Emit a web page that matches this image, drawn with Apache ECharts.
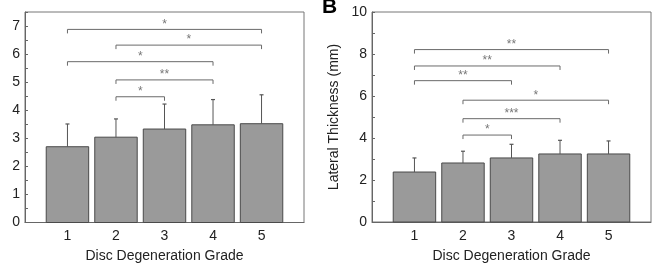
<!DOCTYPE html>
<html>
<head>
<meta charset="utf-8">
<script src="https://cdn.jsdelivr.net/npm/echarts@6/dist/echarts.min.js"></script>
<style>
html,body{margin:0;padding:0;background:#fff;}
#chart{width:653px;height:264px;}
</style>
</head>
<body>
<div id="chart"></div>
<script>
// ---- data ----
const grades = [1, 2, 3, 4, 5];
const meanA = [2.70, 3.04, 3.33, 3.48, 3.52];
const upperA = [3.51, 3.69, 4.22, 4.38, 4.55];
const meanB = [2.38, 2.81, 3.05, 3.24, 3.24];
const upperB = [3.05, 3.37, 3.70, 3.89, 3.86];
// [from grade, to grade, height, significance]
const bracketsA = [[1, 5, 6.88, '*'], [2, 5, 6.32, '*'], [1, 4, 5.73, '*'], [2, 4, 5.08, '**'], [2, 3, 4.48, '*']];
const bracketsB = [[1, 5, 8.21, '**'], [1, 4, 7.43, '**'], [1, 3, 6.73, '**'], [2, 5, 5.80, '*'], [2, 4, 4.92, '***'], [2, 3, 4.14, '*']];
const yLabelsA = [0, 1, 2, 3, 4, 5, 6, 7];
const yTicksA = [0, 0.5, 1, 1.5, 2, 2.5, 3, 3.5, 4, 4.5, 5, 5.5, 6, 6.5, 7, 7.5];
const yLabelsB = [0, 2, 4, 6, 8, 10];
const yTicksB = [0, 1, 2, 3, 4, 5, 6, 7, 8, 9, 10];
const xName = 'Disc Degeneration Grade';
const yNameB = 'Lateral Thickness (mm)';
const panelLetter = 'B';

const FONT = 'Liberation Sans, Arial, Helvetica, sans-serif';
const BAR_W = 0.875;

const chart = echarts.init(document.getElementById('chart'), null, {renderer: 'canvas'});

function xAxisCfg(gi) {
  return {
    type: 'value', gridIndex: gi, min: 0.125, max: 5.875,
    name: xName, nameLocation: 'middle', nameGap: 27,
    nameTextStyle: {fontFamily: FONT, fontSize: 14, color: '#222'},
    axisLine: {show: true, lineStyle: {color: '#666', width: 1}},
    axisTick: {show: false},
    splitLine: {show: false},
    axisLabel: {customValues: grades, fontFamily: FONT, fontSize: 14, color: '#222', margin: 7}
  };
}
function yAxisCfg(gi, max, labels, ticks, name) {
  return {
    type: 'value', gridIndex: gi, min: 0, max: max,
    name: name || '', nameLocation: 'middle', nameGap: 31,
    nameTextStyle: {fontFamily: FONT, fontSize: 14, color: '#222'},
    axisLine: {show: true, lineStyle: {color: '#666', width: 1}},
    axisTick: {show: true, inside: true, length: 3, customValues: ticks, lineStyle: {color: '#666'}},
    splitLine: {show: false},
    axisLabel: {customValues: labels, fontFamily: FONT, fontSize: 14, color: '#222', margin: 5}
  };
}

function barSeries(gi, means) {
  return {
    type: 'custom', xAxisIndex: gi, yAxisIndex: gi,
    data: grades.map((g, i) => [g, means[i]]),
    renderItem: function (params, api) {
      const top = api.coord([api.value(0), api.value(1)]);
      const base = api.coord([api.value(0), 0]);
      const w = api.size([BAR_W, 0])[0];
      return {
        type: 'rect',
        shape: {x: top[0] - w / 2, y: top[1], width: w, height: base[1] - top[1]},
        style: {fill: '#9a9a9a', stroke: '#4a4a4a', lineWidth: 1}
      };
    }
  };
}
function errSeries(gi, means, uppers) {
  return {
    type: 'custom', xAxisIndex: gi, yAxisIndex: gi, z: 3,
    data: grades.map((g, i) => [g, means[i], uppers[i]]),
    renderItem: function (params, api) {
      const a = api.coord([api.value(0), api.value(1)]);
      const b = api.coord([api.value(0), api.value(2)]);
      return {
        type: 'group',
        children: [
          {type: 'line', shape: {x1: a[0], y1: a[1], x2: b[0], y2: b[1]}, style: {stroke: '#555', lineWidth: 1}},
          {type: 'line', shape: {x1: b[0] - 2, y1: b[1], x2: b[0] + 2, y2: b[1]}, style: {stroke: '#555', lineWidth: 1.2}}
        ]
      };
    }
  };
}
function bracketSeries(gi, brackets) {
  return {
    type: 'custom', xAxisIndex: gi, yAxisIndex: gi, z: 4,
    data: brackets.map(b => [b[0], b[1], b[2], b[3]]),
    renderItem: function (params, api) {
      const p1 = api.coord([api.value(0), api.value(2)]);
      const p2 = api.coord([api.value(1), api.value(2)]);
      const label = brackets[params.dataIndex][3];
      const drop = 4;
      return {
        type: 'group',
        children: [
          {type: 'polyline', shape: {points: [[p1[0], p1[1] + drop], [p1[0], p1[1]], [p2[0], p1[1]], [p2[0], p1[1] + drop]]},
           style: {stroke: '#6a6a6a', lineWidth: 1, fill: null}},
          {type: 'text', x: (p1[0] + p2[0]) / 2, y: p1[1] + 1,
           style: {text: label, fill: '#777', font: '12px ' + FONT, align: 'center', verticalAlign: 'bottom'}}
        ]
      };
    }
  };
}

const option = {
  backgroundColor: '#fff',
  animation: false,
  grid: [
    {left: 25, top: 12, width: 279, height: 210.5, show: true, borderColor: '#777', borderWidth: 1, backgroundColor: 'transparent', outerBoundsMode: 'none', containLabel: false},
    {left: 372, top: 12, width: 279, height: 210, show: true, borderColor: '#777', borderWidth: 1, backgroundColor: 'transparent', outerBoundsMode: 'none', containLabel: false}
  ],
  xAxis: [xAxisCfg(0), xAxisCfg(1)],
  yAxis: [yAxisCfg(0, 7.5, yLabelsA, yTicksA), yAxisCfg(1, 10, yLabelsB, yTicksB, yNameB)],
  series: [
    barSeries(0, meanA), errSeries(0, meanA, upperA), bracketSeries(0, bracketsA),
    barSeries(1, meanB), errSeries(1, meanB, upperB), bracketSeries(1, bracketsB)
  ],
  graphic: [
    {type: 'text', left: 322, top: -3, style: {text: panelLetter, font: 'bold 21px ' + FONT, fill: '#000'}}
  ]
};
chart.setOption(option);
</script>
</body>
</html>
